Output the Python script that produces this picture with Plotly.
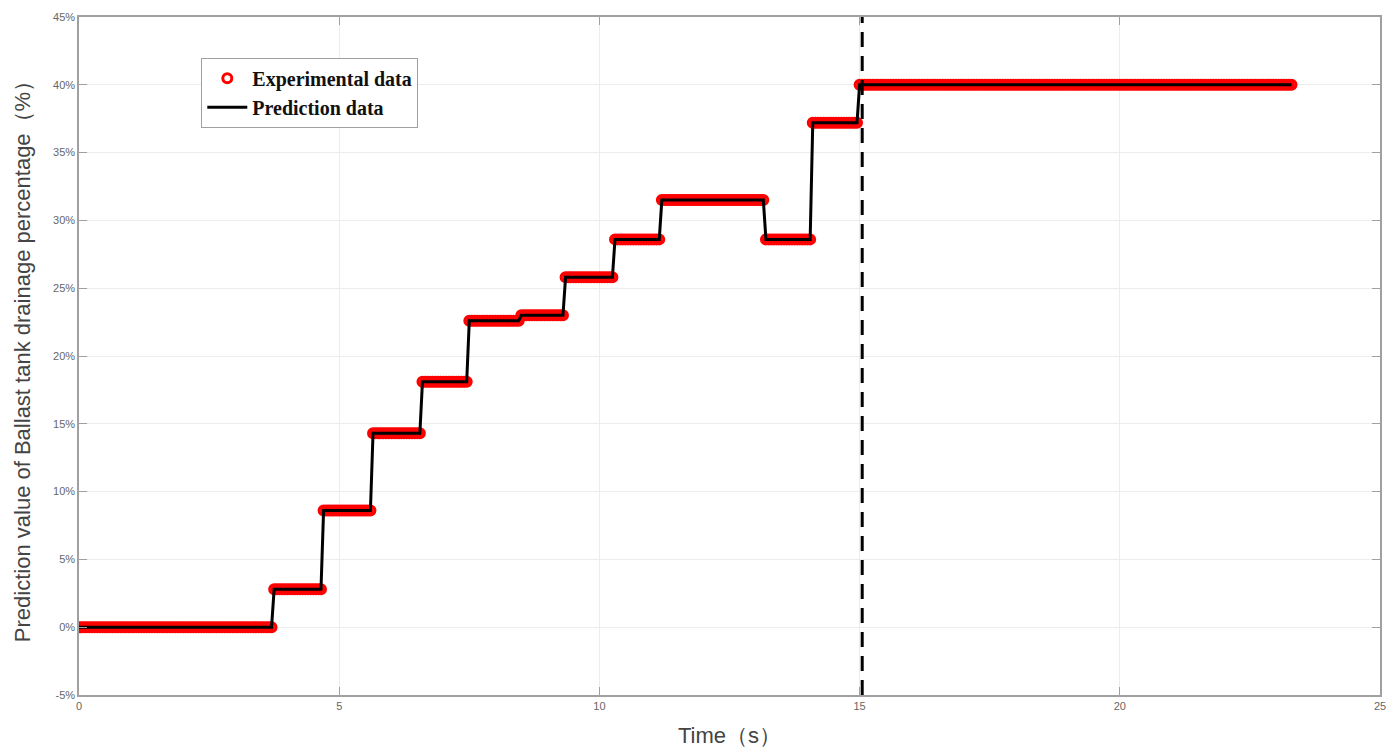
import numpy as np
import plotly.graph_objects as go

# step segments: start time, end time (s), level (%)
seg_start = [0.0, 3.75, 4.70, 5.65, 6.60, 7.50, 8.50, 9.35, 10.30, 11.20, 13.20, 14.10, 15.00]
seg_end = [3.70, 4.65, 5.60, 6.55, 7.45, 8.45, 9.30, 10.25, 11.15, 13.15, 14.05, 14.95, 23.30]
levels = [0.0, 2.8, 8.6, 14.3, 18.1, 22.6, 23.0, 25.8, 28.6, 31.5, 28.6, 37.2, 40.0]
sample_step = 0.05  # experimental sampling interval (s)

boundary_time = 15.05

y_ticks = [-5, 0, 5, 10, 15, 20, 25, 30, 35, 40, 45]
y_labels = ["-5%", "0%", "5%", "10%", "15%", "20%", "25%", "30%", "35%", "40%", "45%"]
x_ticks = [0, 5, 10, 15, 20, 25]

# experimental samples: constant value inside every segment
exp_t, exp_y = [], []
for s, e, v in zip(seg_start, seg_end, levels):
    t = np.arange(s, e + 1e-9, sample_step)
    exp_t.extend(t)
    exp_y.extend([v] * len(t))

# prediction line through the segment end points
pred_t, pred_y = [], []
for s, e, v in zip(seg_start, seg_end, levels):
    pred_t += [s, e]
    pred_y += [v, v]

fig = go.Figure()

fig.add_trace(
    go.Scatter(
        x=exp_t,
        y=exp_y,
        mode="markers",
        name="<b>Experimental data</b>",
        marker=dict(symbol="circle-open", size=9, color="#ff0000", line=dict(width=3, color="#ff0000")),
    )
)

fig.add_trace(
    go.Scatter(
        x=pred_t,
        y=pred_y,
        mode="lines",
        name="<b>Prediction data</b>",
        line=dict(color="#000000", width=3),
    )
)

fig.add_vline(x=boundary_time, line=dict(color="#000000", width=3, dash="15px,9px"))

axis_common = dict(
    automargin=False,
    showline=True,
    linecolor="#a0a0a0",
    linewidth=1.5,
    mirror="ticks",
    ticks="inside",
    ticklen=8,
    tickcolor="#a0a0a0",
    showgrid=True,
    gridcolor="#ececec",
    gridwidth=1,
    zeroline=False,
    tickfont=dict(family="Liberation Sans, Arial", size=11, color="#666666"),
)

fig.update_xaxes(
    range=[0, 25],
    tickvals=x_ticks,
    title=dict(text="Time（s）", font=dict(family="Liberation Sans, Arial", size=22, color="#444444"), standoff=17),
    **axis_common,
)
fig.update_yaxes(
    range=[-5, 45],
    tickvals=y_ticks,
    ticktext=y_labels,
    title=dict(
        text="Prediction value of Ballast tank drainage percentage（%）",
        font=dict(family="Liberation Sans, Arial", size=22, color="#444444"),
        standoff=16,
    ),
    **axis_common,
)

fig.update_layout(
    width=1399,
    height=755,
    margin=dict(l=71, r=27, t=9, b=68),
    plot_bgcolor="white",
    paper_bgcolor="white",
    legend=dict(
        x=0.094,
        y=0.94,
        xanchor="left",
        yanchor="top",
        bgcolor="white",
        bordercolor="#a0a0a0",
        borderwidth=1,
        font=dict(family="Liberation Serif, Times New Roman", size=20, color="#111111"),
        tracegroupgap=0,
        itemwidth=40,
    ),
)

fig.write_html("out.html")
